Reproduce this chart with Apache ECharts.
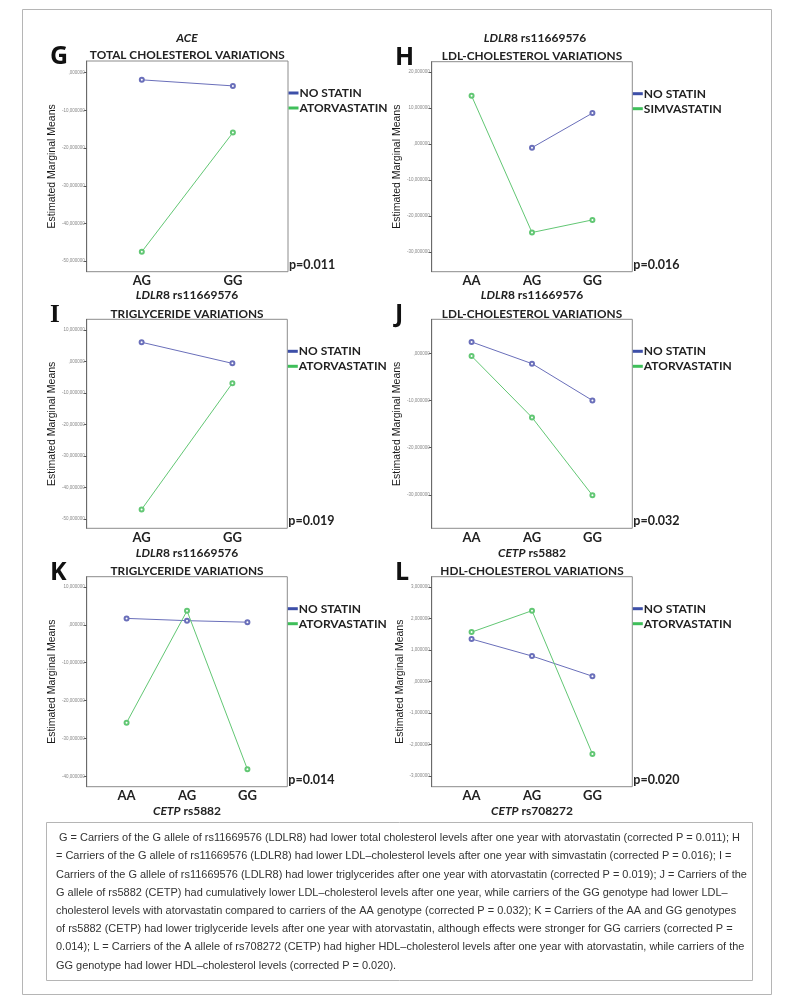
<!DOCTYPE html>
<html>
<head>
<meta charset="utf-8">
<script src="https://cdn.jsdelivr.net/npm/echarts@6/dist/echarts.min.js"></script>
<style>
html,body{margin:0;padding:0;background:#fff;}
#c{width:794px;height:1007px;}
</style>
</head>
<body>
<div id="c"></div>
<script>
// ---------- DATA ----------
const catsG = ['AG', 'GG'];
const noStatinG = [-1.9, -3.5];
const atorG = [-47.5, -15.9];
const ticksG = [0, -10, -20, -30, -40, -50];

const catsH = ['AA', 'AG', 'GG'];
const noStatinH = [null, -1.0, 8.6];
const simvaH = [13.4, -24.6, -21.1];
const ticksH = [20, 10, 0, -10, -20, -30];

const catsI = ['AG', 'GG'];
const noStatinI = [6.1, -0.6];
const atorI = [-47.0, -6.9];
const ticksI = [10, 0, -10, -20, -30, -40, -50];

const catsJ = ['AA', 'AG', 'GG'];
const noStatinJ = [2.4, -2.2, -10.0];
const atorJ = [-0.6, -13.6, -30.1];
const ticksJ = [0, -10, -20, -30];

const catsK = ['AA', 'AG', 'GG'];
const noStatinK = [1.7, 1.1, 0.7];
const atorK = [-25.8, 3.7, -38.1];
const ticksK = [10, 0, -10, -20, -30, -40];

const catsL = ['AA', 'AG', 'GG'];
const noStatinL = [1.35, 0.81, 0.17];
const atorL = [1.57, 2.25, -2.30];
const ticksL = [3, 2, 1, 0, -1, -2, -3];

const captionLines = [
  ' G = Carriers of the G allele of rs11669576 (LDLR8) had lower total cholesterol levels after one year with atorvastatin (corrected P = 0.011); H',
  '= Carriers of the G allele of rs11669576 (LDLR8) had lower LDL\u2013cholesterol levels after one year with simvastatin (corrected P = 0.016); I =',
  'Carriers of the G allele of rs11669576 (LDLR8) had lower triglycerides after one year with atorvastatin (corrected P = 0.019); J = Carriers of the',
  'G allele of rs5882 (CETP) had cumulatively lower LDL\u2013cholesterol levels after one year, while carriers of the GG genotype had lower LDL\u2013',
  'cholesterol levels with atorvastatin compared to carriers of the AA genotype (corrected P = 0.032); K = Carriers of the AA and GG genotypes',
  'of rs5882 (CETP) had lower triglyceride levels after one year with atorvastatin, although effects were stronger for GG carriers (corrected P =',
  '0.014); L = Carriers of the A allele of rs708272 (CETP) had higher HDL\u2013cholesterol levels after one year with atorvastatin, while carriers of the',
  'GG genotype had lower HDL\u2013cholesterol levels (corrected P = 0.020).'
];

// ---------- LAYOUT / STYLE ----------
const BLUE = '#6a6fba', GREEN = '#62c774';
const BLUE_L = '#3d4fa8', GREEN_L = '#3fbf5a';
const BOLD = 'Lato';

const panels = [
  {cats: catsG, a: noStatinG, b: atorG, bName: 'ATORVASTATIN', ticks: ticksG, ymin: -52.8, ymax: 3.1,
   grid: [86.7, 61, 201.3, 210.7], letter: 'G', title: 'TOTAL CHOLESTEROL VARIATIONS', p: 'p=0.011'},
  {cats: catsH, a: noStatinH, b: simvaH, bName: 'SIMVASTATIN', ticks: ticksH, ymin: -35.5, ymax: 22.9,
   grid: [431.7, 61.7, 200.6, 210], letter: 'H', title: 'LDL-CHOLESTEROL VARIATIONS', p: 'p=0.016'},
  {cats: catsI, a: noStatinI, b: atorI, bName: 'ATORVASTATIN', ticks: ticksI, ymin: -53.0, ymax: 13.4,
   grid: [86.7, 319.3, 200.6, 209], letter: 'I', title: 'TRIGLYCERIDE VARIATIONS', p: 'p=0.019'},
  {cats: catsJ, a: noStatinJ, b: atorJ, bName: 'ATORVASTATIN', ticks: ticksJ, ymin: -37.1, ymax: 7.2,
   grid: [431.7, 319.3, 200.6, 209], letter: 'J', title: 'LDL-CHOLESTEROL VARIATIONS', p: 'p=0.032'},
  {cats: catsK, a: noStatinK, b: atorK, bName: 'ATORVASTATIN', ticks: ticksK, ymin: -42.7, ymax: 12.7,
   grid: [86.7, 576.7, 200.6, 210], letter: 'K', title: 'TRIGLYCERIDE VARIATIONS', p: 'p=0.014'},
  {cats: catsL, a: noStatinL, b: atorL, bName: 'ATORVASTATIN', ticks: ticksL, ymin: -3.34, ymax: 3.33,
   grid: [431.7, 576.7, 200.6, 210], letter: 'L', title: 'HDL-CHOLESTEROL VARIATIONS', p: 'p=0.020'}
];

function spss(v) {
  let s = Math.abs(v).toFixed(6).replace('.', ',');
  if (Math.abs(v) < 1) s = s.replace(/^0/, '');
  return (v < 0 ? '-' : '') + s;
}

const grids = [], xAxes = [], yAxes = [], series = [], legends = [], graphics = [];

panels.forEach((P, i) => {
  const [gl, gt, gw, gh] = P.grid;
  const n = P.cats.length;
  const pad = n === 2 ? 0.605 : 0.66;
  grids.push({left: gl, top: gt, width: gw, height: gh, show: true, borderColor: '#8c8c8c', borderWidth: 1, backgroundColor: 'transparent'});
  xAxes.push({
    type: 'value', gridIndex: i, min: -pad, max: n - 1 + pad, position: 'bottom',
    axisLine: {show: false, onZero: false}, axisTick: {show: false}, splitLine: {show: false},
    axisLabel: {customValues: P.cats.map((c, k) => k), formatter: v => P.cats[Math.round(v)],
      fontFamily: BOLD, fontWeight: 'bold', fontSize: 13, color: '#222', margin: 3}
  });
  yAxes.push({
    type: 'value', gridIndex: i, min: P.ymin, max: P.ymax, position: 'left',
    axisLine: {show: true, onZero: false, lineStyle: {color: '#6a6a6a', width: 1}},
    axisTick: {show: true, length: 3, customValues: P.ticks, lineStyle: {color: '#555'}},
    splitLine: {show: false},
    axisLabel: {customValues: P.ticks, formatter: spss, fontSize: 4.5, color: '#888', margin: 2, fontFamily: 'Liberation Sans'},
    name: 'Estimated Marginal Means', nameLocation: 'middle', nameGap: 23,
    nameTextStyle: {fontFamily: 'Liberation Sans', fontSize: 10.5, color: '#1a1a1a'}
  });
  const mk = (name, vals, color) => ({
    name, type: 'line', xAxisIndex: i, yAxisIndex: i,
    data: vals.map((v, k) => [k, v == null ? '-' : v]),
    symbol: 'emptyCircle', symbolSize: 4, showSymbol: true,
    lineStyle: {width: 1, color}, itemStyle: {color, borderWidth: 1},
    animation: false, silent: true
  });
  series.push(mk('NO STATIN', P.a, BLUE));
  series.push(mk(P.bName, P.b, GREEN));
  legends.push({
    orient: 'vertical', left: gl + gw + 0.5, top: gt + 26, padding: 0, itemGap: 3,
    itemWidth: 10, itemHeight: 3, icon: 'rect', selectedMode: false,
    textStyle: {fontFamily: BOLD, fontWeight: 'bold', fontSize: 12, color: '#222', lineHeight: 12, padding: [0, 0, 0, -4]},
    data: [{name: 'NO STATIN', itemStyle: {color: BLUE_L}}, {name: P.bName, itemStyle: {color: GREEN_L}}]
  });
  const cx = gl + gw / 2;
  graphics.push({type: 'text', x: cx, y: gt - 5.5, style: {text: P.title, font: 'bold 11.8px Lato', fill: '#222', textAlign: 'center', textVerticalAlign: 'middle'}});
  graphics.push({type: 'text', x: gl + gw + 1, y: gt + gh - 7, style: {text: P.p, font: 'bold 12.5px Lato', fill: '#222', textAlign: 'left', textVerticalAlign: 'middle'}});
  const letterX = (i % 2 === 0) ? 50 : 395;
  const lf = P.letter === 'I' ? 'bold 25px "Liberation Serif"' : 'bold 25px "Open Sans"';
  graphics.push({type: 'text', x: letterX, y: gt - 4, style: {text: P.letter, font: lf, fill: '#111', textAlign: 'left', textVerticalAlign: 'middle'}});
});

// gene / x-axis name labels
const geneLabels = [
  {x: 187, y: 38, it: 'ACE', rest: ''},
  {x: 535, y: 38, it: 'LDLR', rest: '8 rs11669576'},
  {x: 187, y: 295, it: 'LDLR', rest: '8 rs11669576'},
  {x: 532, y: 295, it: 'LDLR', rest: '8 rs11669576'},
  {x: 187, y: 553, it: 'LDLR', rest: '8 rs11669576'},
  {x: 532, y: 553, it: 'CETP', rest: ' rs5882'},
  {x: 187, y: 811, it: 'CETP', rest: ' rs5882'},
  {x: 532, y: 811, it: 'CETP', rest: ' rs708272'}
];
geneLabels.forEach(g => {
  graphics.push({type: 'text', x: g.x, y: g.y, style: {
    text: '{i|' + g.it + '}{n|' + g.rest + '}', textAlign: 'center', textVerticalAlign: 'middle',
    rich: {i: {font: 'italic bold 12px Lato', fill: '#222'}, n: {font: 'bold 12px Lato', fill: '#222'}}
  }});
});

// outer frame and caption box
graphics.push({type: 'rect', shape: {x: 22.5, y: 9.5, width: 749, height: 985}, style: {fill: 'none', stroke: '#b5b5b5', lineWidth: 1}, z: -1});
graphics.push({type: 'rect', shape: {x: 46.5, y: 822.5, width: 706, height: 158}, style: {fill: 'none', stroke: '#b5b5b5', lineWidth: 1}, z: -1});

// condensed caption: scale the natural font horizontally to the reference line width
const capFont = '11.6px "Liberation Sans"';
const mctx = document.createElement('canvas').getContext('2d');
mctx.font = capFont;
const capScale = 684 / mctx.measureText(captionLines[0]).width;
captionLines.forEach((t, k) => {
  graphics.push({type: 'text', x: 56, y: 838 + k * 18.2, scaleX: capScale, originX: 0,
    style: {text: t, font: capFont, fill: '#333', textAlign: 'left', textVerticalAlign: 'middle'}});
});

const chart = echarts.init(document.getElementById('c'), null, {renderer: 'canvas'});
chart.setOption({
  animation: false,
  backgroundColor: '#fff',
  grid: grids, xAxis: xAxes, yAxis: yAxes, series: series, legend: legends,
  graphic: graphics
});
</script>
</body>
</html>
